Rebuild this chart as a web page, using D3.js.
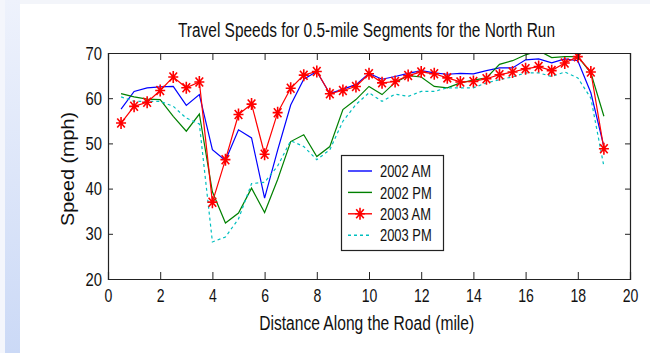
<!DOCTYPE html>
<html>
<head>
<meta charset="utf-8">
<script src="https://cdn.jsdelivr.net/npm/d3@7"></script>
<style>
  html, body { margin: 0; padding: 0; background: #fff; }
  svg { display: block; }
  text { font-family: "Liberation Sans", Arial, sans-serif; fill: #111; }
</style>
</head>
<body>
<div id="chart"></div>
<script>
"use strict";

// distance along the road (mile), one reading every half mile
const distance = [0.5, 1, 1.5, 2, 2.5, 3, 3.5, 4, 4.5, 5, 5.5, 6, 6.5, 7, 7.5, 8, 8.5, 9, 9.5, 10,
  10.5, 11, 11.5, 12, 12.5, 13, 13.5, 14, 14.5, 15, 15.5, 16, 16.5, 17, 17.5, 18, 18.5, 19];

const speed2002AM = [57.6, 61.5, 62.3, 62.5, 62.6, 58.4, 60.8, 48.6, 46.2, 53.0, 51.2, 37.9, 48.5, 58.5, 64.2, 65.9, 61.0, 62.0, 63.0, 65.5,
  64.2, 64.8, 65.5, 66.1, 65.6, 65.3, 65.5, 65.4, 66.1, 66.7, 66.7, 68.5, 68.7, 67.8, 68.7, 68.3, 61.2, 49.3];

const speed2002PM = [61.0, 60.3, 59.8, 59.7, 56.0, 52.7, 56.5, 39.3, 32.4, 34.6, 40.1, 34.7, 42.0, 50.4, 51.9, 47.1, 49.3, 57.5, 59.7, 62.6,
  60.8, 63.5, 65.0, 64.7, 62.6, 62.3, 63.4, 64.0, 64.5, 67.5, 68.3, 69.6, 70.5, 69.0, 69.2, 69.2, 65.6, 56.0];

const speed2003AM = [54.5, 58.2, 59.1, 61.7, 64.7, 62.3, 63.6, 37.0, 46.4, 56.4, 58.7, 47.6, 56.8, 62.2, 65.1, 65.9, 61.0, 61.7, 62.6, 65.4,
  63.4, 63.7, 65.0, 65.8, 65.4, 64.5, 63.6, 63.7, 64.3, 65.2, 65.8, 66.5, 67.0, 66.1, 67.8, 69.2, 65.8, 48.8];

const speed2003PM = [60.3, 59.3, 59.3, 59.3, 58.2, 55.6, 54.3, 28.2, 29.3, 33.3, 41.1, 41.4, 45.0, 50.6, 49.3, 46.4, 48.6, 54.9, 58.6, 61.2,
  59.3, 60.9, 60.4, 61.5, 61.5, 62.3, 62.3, 62.3, 63.4, 64.1, 64.7, 65.6, 65.6, 64.8, 65.8, 64.5, 60.0, 44.9];

const seriesNames = ["2002 AM", "2002 PM", "2003 AM", "2003 PM"];
const xTicks = [0, 2, 4, 6, 8, 10, 12, 14, 16, 18, 20];
const yTicks = [20, 30, 40, 50, 60, 70];

const titleText = "Travel Speeds for 0.5-mile Segments for the North Run";
const xLabelText = "Distance Along the Road (mile)";
const yLabelText = "Speed (mph)";

let width = 650, height = 353;
let margin = { top: 53, right: 20, bottom: 74, left: 108 };
let plotW = width - margin.left - margin.right;
let plotH = height - margin.top - margin.bottom;

let styles = {
  "2002 AM": { color: "#0000ff", dash: null, marker: false },
  "2002 PM": { color: "#008000", dash: null, marker: false },
  "2003 AM": { color: "#ff0000", dash: null, marker: true },
  "2003 PM": { color: "#00bfbf", dash: "3,3", marker: false }
};

let seriesValues = [speed2002AM, speed2002PM, speed2003AM, speed2003PM];
let series = seriesNames.map((name, i) => ({
  name: name,
  values: distance.map((d, j) => ({ d: d, v: seriesValues[i][j] }))
}));

// the original text is tall and narrow, so squeeze glyphs horizontally
function squeeze(sel, k) {
  sel.each(function() {
    let w = this.getComputedTextLength();
    d3.select(this).attr("textLength", w * k).attr("lengthAdjust", "spacingAndGlyphs");
  });
}

let svg = d3.select("#chart").append("svg")
  .attr("width", width)
  .attr("height", height);

// slide-like background: pale strip on the left, thin band at the top
let defs = svg.append("defs");
let grad = defs.append("linearGradient").attr("id", "strip")
  .attr("x1", 0).attr("y1", 0).attr("x2", 0).attr("y2", 1);
grad.append("stop").attr("offset", "0%").attr("stop-color", "#eef2fc");
grad.append("stop").attr("offset", "100%").attr("stop-color", "#cbd9f6");

svg.append("rect").attr("x", 0).attr("y", 0).attr("width", width).attr("height", 4).attr("fill", "#f3f5fa");
svg.append("rect").attr("x", 0).attr("y", 0).attr("width", 5).attr("height", height).attr("fill", "#f4f6fc");
svg.append("rect").attr("x", 5).attr("y", 0).attr("width", 15).attr("height", height).attr("fill", "url(#strip)");

defs.append("clipPath").attr("id", "plotClip")
  .append("rect").attr("width", plotW).attr("height", plotH);

let x = d3.scaleLinear().domain([0, 20]).range([0, plotW]);
let y = d3.scaleLinear().domain([20, 70]).range([plotH, 0]);

let g = svg.append("g").attr("transform", `translate(${margin.left},${margin.top})`);

g.append("rect").attr("width", plotW).attr("height", plotH).attr("fill", "#fff");

// lines
let line = d3.line().x(p => x(p.d)).y(p => y(p.v));
let lines = g.append("g").attr("clip-path", "url(#plotClip)");

lines.selectAll(".series").data(series)
  .enter().append("path")
  .attr("class", "series")
  .attr("d", s => line(s.values))
  .attr("fill", "none")
  .attr("stroke", s => styles[s.name].color)
  .attr("stroke-width", 1.2)
  .attr("stroke-dasharray", s => styles[s.name].dash);

// asterisk marker, like matlab '*'
let star = "M-5,0L5,0M0,-6L0,6M-3.8,-4.5L3.8,4.5M-3.8,4.5L3.8,-4.5";

series.filter(s => styles[s.name].marker).forEach(s => {
  lines.selectAll(".marker").data(s.values)
    .enter().append("path")
    .attr("class", "marker")
    .attr("transform", p => `translate(${x(p.d)},${y(p.v)})`)
    .attr("d", star)
    .attr("fill", "none")
    .attr("stroke", styles[s.name].color)
    .attr("stroke-width", 1.6);
});

// axes, ticks pointing inward on all four sides
let xAxis = g.append("g").attr("transform", `translate(0,${plotH})`)
  .call(d3.axisBottom(x).tickValues(xTicks).tickSize(-7).tickPadding(10).tickFormat(d3.format("d")));
let yAxis = g.append("g")
  .call(d3.axisLeft(y).tickValues(yTicks).tickSize(-5).tickPadding(6).tickFormat(d3.format("d")));
let xTop = g.append("g")
  .call(d3.axisTop(x).tickValues(xTicks).tickSize(-7).tickFormat(""));
let yRight = g.append("g").attr("transform", `translate(${plotW},0)`)
  .call(d3.axisRight(y).tickValues(yTicks).tickSize(-5).tickFormat(""));

[xAxis, yAxis, xTop, yRight].forEach(a => {
  a.attr("font-family", null).attr("font-size", null);
  a.select(".domain").attr("stroke", "#222").attr("stroke-width", 1.2);
  a.selectAll(".tick line").attr("stroke", "#222");
  a.selectAll(".tick text").style("font-size", "19px").attr("fill", "#111");
});
squeeze(xAxis.selectAll(".tick text"), 0.74);
squeeze(yAxis.selectAll(".tick text"), 0.78);

// legend
let legend = g.append("g").attr("transform", `translate(${341 - margin.left},${155 - margin.top})`);
legend.append("rect")
  .attr("x", 0.5).attr("y", 0.5)
  .attr("width", 102).attr("height", 95)
  .attr("fill", "#fff").attr("stroke", "#222").attr("stroke-width", 1.2);

let rows = legend.selectAll(".row").data(seriesNames)
  .enter().append("g")
  .attr("class", "row")
  .attr("transform", (n, i) => `translate(0,${16 + i * 21.4})`);

rows.append("line")
  .attr("x1", 7).attr("x2", 31).attr("y1", 0).attr("y2", 0)
  .attr("stroke", n => styles[n].color)
  .attr("stroke-width", 1.4)
  .attr("stroke-dasharray", n => styles[n].dash);

rows.filter(n => styles[n].marker).append("path")
  .attr("transform", "translate(19,0)")
  .attr("d", star)
  .attr("fill", "none")
  .attr("stroke", n => styles[n].color)
  .attr("stroke-width", 1.6);

let legendText = rows.append("text")
  .attr("x", 39).attr("y", 0).attr("dy", "0.36em")
  .style("font-size", "17px")
  .text(n => n);
squeeze(legendText, 0.76);

// title and axis labels
svg.append("text")
  .attr("x", 366.5).attr("y", 36.5)
  .attr("text-anchor", "middle")
  .style("font-size", "20px")
  .attr("textLength", 377).attr("lengthAdjust", "spacingAndGlyphs")
  .text(titleText);

svg.append("text")
  .attr("x", 366.7).attr("y", 330)
  .attr("text-anchor", "middle")
  .style("font-size", "20px")
  .attr("textLength", 215).attr("lengthAdjust", "spacingAndGlyphs")
  .text(xLabelText);

svg.append("text")
  .attr("transform", "translate(73.5,169) rotate(-90)")
  .attr("text-anchor", "middle")
  .style("font-size", "19px")
  .attr("textLength", 114).attr("lengthAdjust", "spacingAndGlyphs")
  .text(yLabelText);
</script>
</body>
</html>
